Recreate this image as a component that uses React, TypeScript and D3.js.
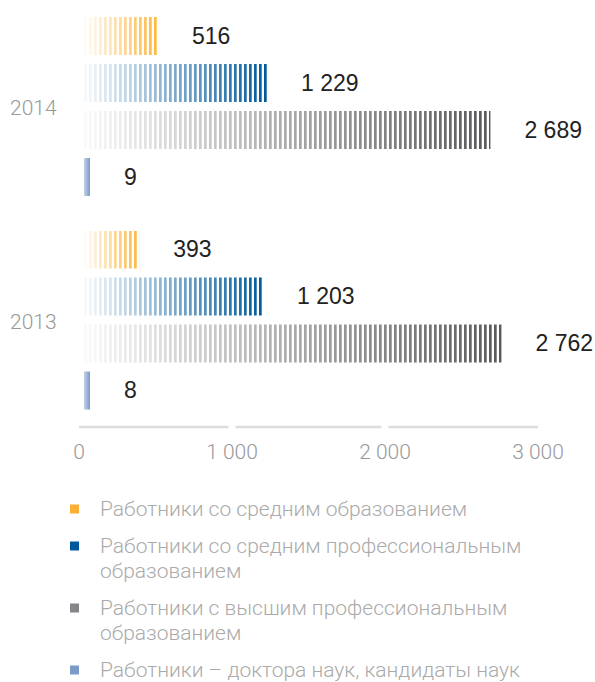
import React from "react";
import * as d3 from "d3";

const years = ["2014", "2013"];
const seriesKeys = ["secondary", "vocational", "higher", "phd"];
const values2014 = [516, 1229, 2689, 9];
const values2013 = [393, 1203, 2762, 8];
const xTicks = [0, 1000, 2000, 3000];
const legendLines = [
  ["Работники со средним образованием"],
  ["Работники со средним профессиональным", "образованием"],
  ["Работники с высшим профессиональным", "образованием"],
  ["Работники – доктора наук, кандидаты наук"],
];
const barColors = ["#fdb73e", "#00599b", "#58595b", "#7b9bc9"];
const legendColors = ["#fbb034", "#00599b", "#858689", "#7b9bc9"];

const W = 595;
const H = 682;
const LIGHT = "'Roboto', 'Open Sans', 'Liberation Sans', sans-serif";
const NUM = "'Liberation Sans', Arial, sans-serif";

const locale = d3.formatLocale({
  decimal: ",",
  thousands: "\u00a0",
  grouping: [3],
  currency: ["", ""],
});
const fmt = locale.format(",");

export default function App() {
  const x = d3.scaleLinear().domain([0, 3000]).range([79, 538]);
  const y0 = d3.scaleBand().domain(years).range([17, 409.5]).paddingInner(0.1616);
  const y1 = d3
    .scaleBand()
    .domain(seriesKeys)
    .range([0, y0.bandwidth()])
    .paddingInner(0.1915);

  const data = [
    { year: "2014", values: values2014 },
    { year: "2013", values: values2013 },
  ];

  const barStart = x(0) + 5;
  const minEnd = x(0) + 11;

  const gridY = 427;
  const gap = 3.5;

  let ly = 509;
  const legendItems = legendLines.map((lines, i) => {
    const item = { lines, y: ly, color: legendColors[i] };
    ly += lines.length * 25 + 12;
    return item;
  });

  return (
    <svg
      width={W}
      height={H}
      style={{ position: "absolute", left: 0, top: 0, display: "block", background: "#fff" }}
    >
      <defs>
        {seriesKeys.map((k, i) => (
          <linearGradient key={k} id={`g-${k}`} x1="0" x2="1" y1="0" y2="0">
            <stop offset="0" stopColor={barColors[i]} stopOpacity={0.03} />
            <stop offset="1" stopColor={barColors[i]} stopOpacity={1} />
          </linearGradient>
        ))}
        {seriesKeys.map((k, i) => (
          <linearGradient key={k + "s"} id={`gs-${k}`} x1="0" x2="1" y1="0" y2="0">
            <stop offset="0" stopColor={barColors[i]} stopOpacity={0.45} />
            <stop offset="1" stopColor={barColors[i]} stopOpacity={1} />
          </linearGradient>
        ))}
        <pattern
          id="stripes"
          patternUnits="userSpaceOnUse"
          x={barStart}
          y={0}
          width={5}
          height={H}
        >
          <rect x={0} y={0} width={2.7} height={H} fill="#fff" />
        </pattern>
        <mask id="stripeMask" maskUnits="userSpaceOnUse" x={0} y={0} width={W} height={H}>
          <rect x={0} y={0} width={W} height={H} fill="url(#stripes)" />
        </mask>
      </defs>

      {years.map((yr) => (
        <text
          key={yr}
          x={10}
          y={y0(yr)! + y0.bandwidth() / 2 + 2}
          dominantBaseline="central"
          fontFamily={LIGHT}
          fontWeight={300}
          fontSize={21}
          fill="#999"
        >
          {yr}
        </text>
      ))}

      {data.map((d) => (
        <g key={d.year} transform={`translate(0,${y0(d.year)})`}>
          {d.values.map((v, i) => {
            const k = seriesKeys[i];
            const end = Math.max(x(v), minEnd);
            const w = end - barStart;
            const small = w < 15;
            const by = y1(k)!;
            return (
              <g key={k}>
                <rect
                  x={barStart}
                  y={by}
                  width={w}
                  height={y1.bandwidth()}
                  fill={small ? `url(#gs-${k})` : `url(#g-${k})`}
                  mask={small ? undefined : "url(#stripeMask)"}
                />
                <text
                  x={end + 34}
                  y={by + y1.bandwidth() / 2}
                  dominantBaseline="central"
                  fontFamily={NUM}
                  fontSize={23}
                  fill="#222"
                >
                  {fmt(v)}
                </text>
              </g>
            );
          })}
        </g>
      ))}

      {xTicks.slice(0, -1).map((t, i) => {
        const next = xTicks[i + 1];
        const x1 = x(t) + (i === 0 ? 0 : gap);
        const x2 = x(next) - (i + 1 === xTicks.length - 1 ? 0 : gap);
        return (
          <line key={t} x1={x1} x2={x2} y1={gridY} y2={gridY} stroke="#dcdcdc" strokeWidth={2.5} />
        );
      })}
      {xTicks.map((t) => (
        <text
          key={t}
          x={x(t)}
          y={452}
          textAnchor="middle"
          dominantBaseline="central"
          fontFamily={LIGHT}
          fontWeight={300}
          fontSize={21}
          fill="#999"
        >
          {fmt(t)}
        </text>
      ))}

      {legendItems.map((it, i) => (
        <g key={i}>
          <rect x={70} y={it.y - 4.5} width={9} height={9} fill={it.color} />
          {it.lines.map((ln, j) => (
            <text
              key={j}
              x={100}
              y={it.y + j * 25}
              dominantBaseline="central"
              fontFamily={LIGHT}
              fontWeight={300}
              fontSize={21}
              fill="#aaa"
            >
              {ln}
            </text>
          ))}
        </g>
      ))}
    </svg>
  );
}
